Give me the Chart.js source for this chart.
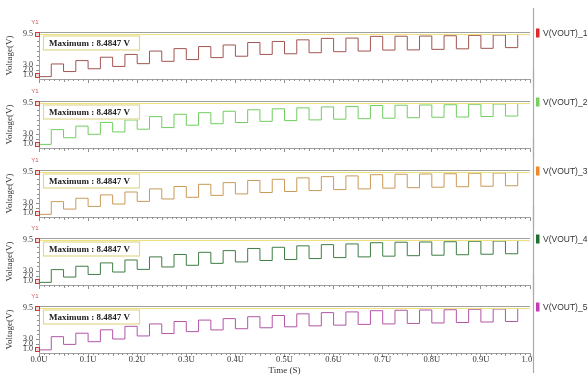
<!DOCTYPE html>
<html><head><meta charset="utf-8">
<script src="https://cdn.jsdelivr.net/npm/chart.js@4/dist/chart.umd.min.js"></script>
<style>
html,body{margin:0;padding:0;background:#fff;}
#root{position:relative;width:588px;height:383px;overflow:hidden;background:#fff;}
#root canvas{position:absolute;left:0;}
</style></head><body><div id="root"></div>
<script>
// ---- data ----
const timeEdges = [0, 0.025, 0.05, 0.075, 0.1, 0.125, 0.15, 0.175, 0.2, 0.225,
  0.25, 0.275, 0.3, 0.325, 0.35, 0.375, 0.4, 0.425, 0.45, 0.475,
  0.5, 0.525, 0.55, 0.575, 0.6, 0.625, 0.65, 0.675, 0.7, 0.725,
  0.75, 0.775, 0.8, 0.825, 0.85, 0.875, 0.9, 0.925, 0.95, 0.975];
const timeEnd = 1.0;
const seriesNames = ['V(VOUT)_1', 'V(VOUT)_2', 'V(VOUT)_3', 'V(VOUT)_4', 'V(VOUT)_5'];
const vout1Low  = [0.64, 1.70, 2.28, 2.77, 3.34, 3.83, 4.19, 4.60, 4.89, 5.26, 5.40, 5.62, 5.83, 5.96, 6.17, 6.21, 6.32, 6.43, 6.53, 6.68];
const vout1High = [3.28, 3.98, 4.68, 5.26, 5.96, 6.47, 6.90, 7.23, 7.74, 7.96, 8.30, 8.60, 8.66, 9.02, 9.05, 9.09, 9.15, 9.23, 9.30, 9.40];
const vout2Low  = [0.90, 2.28, 3.00, 3.49, 4.06, 4.40, 4.90, 5.20, 5.45, 5.70, 5.85, 6.00, 6.15, 6.25, 6.35, 6.45, 6.55, 6.60, 6.70, 6.80];
const vout2High = [3.98, 4.70, 5.47, 5.98, 6.68, 7.17, 7.50, 7.80, 8.10, 8.30, 8.50, 8.70, 8.80, 9.00, 9.05, 9.10, 9.15, 9.25, 9.30, 9.40];
const vout3Low  = [0.70, 1.80, 2.35, 2.85, 3.40, 3.90, 4.25, 4.65, 4.95, 5.25, 5.45, 5.65, 5.85, 6.00, 6.15, 6.25, 6.35, 6.45, 6.55, 6.65];
const vout3High = [3.35, 4.05, 4.75, 5.35, 6.00, 6.50, 6.95, 7.30, 7.75, 8.00, 8.30, 8.55, 8.70, 8.95, 9.05, 9.10, 9.15, 9.25, 9.30, 9.40];
const vout4Low  = [0.70, 1.80, 2.35, 2.85, 3.40, 3.90, 4.25, 4.65, 4.95, 5.25, 5.45, 5.65, 5.85, 6.00, 6.15, 6.25, 6.35, 6.45, 6.55, 6.65];
const vout4High = [3.35, 4.05, 4.75, 5.35, 6.00, 6.50, 6.95, 7.30, 7.75, 8.00, 8.30, 8.55, 8.70, 8.95, 9.05, 9.10, 9.15, 9.25, 9.30, 9.40];
const vout5Low  = [0.80, 1.94, 2.50, 3.06, 3.70, 4.20, 4.60, 4.95, 5.20, 5.40, 5.60, 5.80, 5.95, 6.10, 6.20, 6.30, 6.40, 6.50, 6.60, 6.70];
const vout5High = [3.55, 4.27, 4.97, 5.70, 6.20, 6.70, 7.00, 7.30, 7.70, 7.95, 8.30, 8.55, 8.70, 8.95, 9.05, 9.10, 9.15, 9.25, 9.30, 9.40];
const yTickValues = [1.0, 2.0, 3.0, 9.5];
const yMarkerValues = [9.5, 1.0];
const maxLabel = 'Maximum : 8.4847 V';
const yTitle = 'Voltage(V)';
const xTitle = 'Time (S)';
const axisTag = 'Y1';

// ---- styles ----
const lineColors = ['#a05552', '#72cc62', '#c99a58', '#3f7d45', '#b255a6'];
const legendColors = ['#e02828', '#78d060', '#f08a28', '#1f7030', '#c43cb4'];
const panelTops = [0, 69, 138, 206, 274];
const SERIF = '"Liberation Serif", "Times New Roman", serif';
const SANS = '"Liberation Sans", "DejaVu Sans", sans-serif';

const lows = [vout1Low, vout2Low, vout3Low, vout4Low, vout5Low];
const highs = [vout1High, vout2High, vout3High, vout4High, vout5High];

function buildPoints(lo, hi) {
  const pts = [];
  for (let m = 0; m < lo.length; m++) {
    pts.push({x: timeEdges[2 * m], y: lo[m]});
    pts.push({x: timeEdges[2 * m + 1], y: hi[m]});
  }
  pts.push({x: timeEnd, y: hi[hi.length - 1]});
  return pts;
}

const deco = {
  id: 'deco',
  afterDraw(chart, args, o) {
    const {ctx, chartArea: a, scales: {x, y}} = chart;
    const W = chart.width;
    ctx.save();
    // top border
    ctx.strokeStyle = '#a0a0a0'; ctx.lineWidth = 1;
    ctx.beginPath(); ctx.moveTo(a.left, a.top + 0.5); ctx.lineTo(a.right, a.top + 0.5); ctx.stroke();
    // max line (yellow)
    ctx.strokeStyle = '#eee27c';
    ctx.beginPath(); ctx.moveTo(a.left, a.top + 2.5); ctx.lineTo(a.right, a.top + 2.5); ctx.stroke();
    // minor x ticks
    ctx.strokeStyle = '#909090';
    ctx.beginPath();
    for (let k = 0; k <= 100; k++) {
      if (k % 10 === 0) continue;
      const px = Math.round(x.getPixelForValue(k / 100)) + 0.5;
      const len = (k % 5 === 0) ? 3 : 2;
      ctx.moveTo(px, a.bottom); ctx.lineTo(px, a.bottom + len);
    }
    ctx.stroke();
    // minor y ticks
    ctx.beginPath();
    for (let v = 4; v <= 9; v++) {
      const py = Math.round(y.getPixelForValue(v)) + 0.5;
      ctx.moveTo(a.left - 2, py); ctx.lineTo(a.left, py);
    }
    ctx.stroke();
    // red markers
    for (const mv of yMarkerValues) {
      const py = Math.round(y.getPixelForValue(mv));
      ctx.fillStyle = '#f3d6d6';
      ctx.fillRect(a.left - 4, py - 2, 5, 5);
      ctx.strokeStyle = '#c83c3c';
      ctx.strokeRect(a.left - 3.5, py - 1.5, 4, 4);
    }
    // Y1 tag
    ctx.fillStyle = '#c85050';
    ctx.font = '6px ' + SANS;
    ctx.textAlign = 'center'; ctx.textBaseline = 'middle';
    ctx.fillText(axisTag, a.left - 4, a.top - 10);
    // maximum box
    ctx.fillStyle = '#ffffff';
    ctx.fillRect(a.left + 4, a.top + 3.5, 97, 15);
    ctx.strokeStyle = '#e2d890'; ctx.lineWidth = 1.2;
    ctx.strokeRect(a.left + 4.5, a.top + 4, 96, 14);
    ctx.fillStyle = '#222';
    ctx.font = 'bold 9px ' + SERIF;
    ctx.textAlign = 'left';
    ctx.fillText(maxLabel, a.left + 10, a.top + 11.5);
    // legend entry
    const ly = a.top + 1;
    ctx.fillStyle = o.legendColor;
    ctx.fillRect(W - 52, ly - 4.5, 3.5, 9);
    ctx.fillStyle = '#333';
    ctx.font = '8.5px ' + SANS;
    ctx.fillText(o.name, W - 45, ly + 0.5);
    // mask right of divider for x labels
    if (o.last) {
      ctx.fillStyle = '#fff';
      ctx.fillRect(W - 54.5, a.bottom + 1, 60, 40);
    }
    // divider
    ctx.strokeStyle = '#ababab'; ctx.lineWidth = 1.2;
    ctx.beginPath(); ctx.moveTo(W - 54.5, o.first ? 8 : 0); ctx.lineTo(W - 54.5, o.last ? a.bottom + 20 : chart.height); ctx.stroke();
    ctx.restore();
  }
};

const root = document.getElementById('root');
for (let i = 0; i < 5; i++) {
  const last = i === 4;
  const h = last ? 383 - panelTops[i] : 89;
  const cv = document.createElement('canvas');
  cv.width = 588; cv.height = h;
  cv.style.top = panelTops[i] + 'px';
  cv.style.width = '588px'; cv.style.height = h + 'px';
  root.appendChild(cv);
  new Chart(cv, {
    type: 'line',
    data: {datasets: [{
      label: seriesNames[i],
      data: buildPoints(lows[i], highs[i]),
      borderColor: lineColors[i],
      borderWidth: 1,
      pointRadius: 0,
      stepped: true,
      fill: false
    }]},
    options: {
      responsive: false,
      animation: false,
      devicePixelRatio: 1,
      layout: {padding: {top: 32, right: 58, left: 0, bottom: 0}},
      plugins: {
        legend: {display: false},
        tooltip: {enabled: false},
        deco: {legendColor: legendColors[i], name: seriesNames[i], last: last, first: i === 0}
      },
      scales: {
        x: {
          type: 'linear', min: 0, max: 1,
          border: {display: true, color: '#a0a0a0'},
          grid: {display: true, drawOnChartArea: false, drawTicks: true, tickLength: 4, color: '#909090'},
          ticks: {
            display: last, stepSize: 0.1, autoSkip: false, maxRotation: 0,
            padding: -2, color: '#333', font: {family: SERIF, size: 8.5},
            callback: v => v.toFixed(1) + 'U'
          },
          title: {display: last, text: xTitle, color: '#333', font: {family: SERIF, size: 9}, padding: {top: 0, bottom: 7}},
          afterFit: s => { s.height = last ? 30 : 10; }
        },
        y: {
          type: 'linear', min: 0.15, max: 9.93,
          border: {display: true, color: '#a0a0a0'},
          grid: {display: true, drawOnChartArea: false, drawTicks: true, tickLength: 3, color: '#909090'},
          afterBuildTicks: s => { s.ticks = yTickValues.map(v => ({value: v})); },
          ticks: {autoSkip: false, padding: 3, color: '#333', font: {family: SERIF, size: 8, lineHeight: 1}, callback: v => Number(v).toFixed(1)},
          title: {display: true, text: yTitle, color: '#333', font: {family: SERIF, size: 9}, padding: {top: 4, bottom: 0}},
          afterFit: s => { s.width = 39; }
        }
      }
    },
    plugins: [deco]
  });
}
</script></body></html>
